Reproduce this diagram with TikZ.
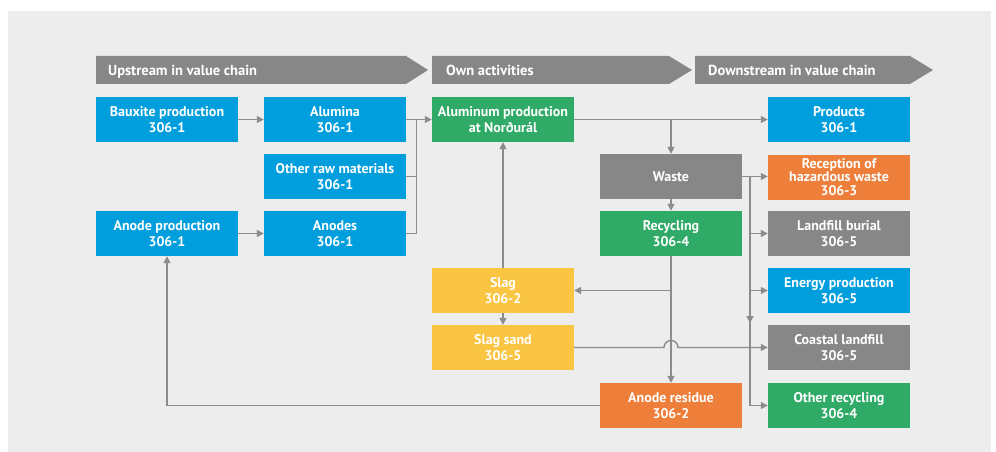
\documentclass[tikz,border=0pt]{standalone}
\usepackage{fontspec}
\setmainfont{PT Sans}
\usepackage{xcolor}
\usetikzlibrary{arrows.meta, positioning, calc}

\definecolor{bggray}{HTML}{EDEDED}
\definecolor{headgray}{HTML}{878787}
\definecolor{linegray}{HTML}{8C8C8C}
\definecolor{upblue}{HTML}{009EDD}
\definecolor{owngreen}{HTML}{30AB67}
\definecolor{hazorange}{HTML}{EE7F3A}
\definecolor{slagyellow}{HTML}{FBC544}

\begin{document}
\begin{tikzpicture}[x=1pt, y=-1pt,
  box/.style={minimum width=142pt, minimum height=45pt, inner sep=0pt, text=white,
    font=\bfseries\fontsize{14}{16.5}\selectfont, align=center},
  bluebox/.style={box, fill=upblue},
  greenbox/.style={box, fill=owngreen},
  orangebox/.style={box, fill=hazorange},
  yellowbox/.style={box, fill=slagyellow},
  graybox/.style={box, fill=headgray},
  headtext/.style={text=white, inner sep=0pt, anchor=base west, font=\bfseries\fontsize{14.5}{16}\selectfont},
  flow/.style={draw=linegray, line width=1.4pt},
  arr/.style={flow, -{Triangle[length=7pt, width=7pt]}}]

% background
\useasboundingbox[fill=white] (0,0) rectangle (996,452);
\fill[bggray] (8,11) rectangle (991,452);

% value chain headers
\fill[headgray] (96,56) -- (406,56) -- (428,70) -- (406,84) -- (96,84) -- cycle;
\node[headtext] (upstream) at (108,75) {Upstream in value chain};
\fill[headgray] (432,56) -- (669,56) -- (692,70) -- (669,84) -- (432,84) -- cycle;
\node[headtext] (own) at (446,75) {Own activities};
\fill[headgray] (695,56) -- (910,56) -- (933,70) -- (910,84) -- (695,84) -- cycle;
\node[headtext] (downstream) at (708,75) {Downstream in value chain};

% upstream
\node[bluebox] (bauxite) at (167,119.5) {Bauxite production\\306-1};
\node[bluebox] (alumina) at (335,119.5) {Alumina\\306-1};
\node[bluebox] (rawmat) at (335,176.5) {Other raw materials\\306-1};
\node[bluebox] (anodeprod) at (167,233.5) {Anode production\\306-1};
\node[bluebox] (anodes) at (335,233.5) {Anodes\\306-1};

% own activities
\node[greenbox] (aluminum) at (503,119.5) {Aluminum production\\at Norðurál};
\node[graybox] (waste) at (671,176.5) {Waste};
\node[greenbox] (recycling) at (671,233.5) {Recycling\\306-4};
\node[yellowbox] (slag) at (503,290.5) {Slag\\306-2};
\node[yellowbox] (slagsand) at (503,347.5) {Slag sand\\306-5};
\node[orangebox] (residue) at (671,405.5) {Anode residue\\306-2};

% downstream
\node[bluebox] (products) at (839,119.5) {Products\\306-1};
\node[orangebox, font=\bfseries\fontsize{14}{13.8}\selectfont] (reception) at (839,177) {Reception of\\hazardous waste\\306-3};
\node[graybox] (landfill) at (839,233.5) {Landfill burial\\306-5};
\node[bluebox] (energy) at (839,290.5) {Energy production\\306-5};
\node[graybox] (coastal) at (839,347.5) {Coastal landfill\\306-5};
\node[greenbox] (otherrec) at (839,405.5) {Other recycling\\306-4};

% connectors
\coordinate (inbus) at (416.5,119.5);
\coordinate (wastebus) at (750,176.5);
\coordinate (wastedown) at (750,323);
\coordinate (hop) at (671,347.5);

\draw[arr] (bauxite) -- (alumina);
\draw[arr] (anodeprod) -- (anodes);
\draw[arr] (alumina) -- (aluminum);
\draw[flow] (rawmat.east) -| (inbus);
\draw[flow] (anodes.east) -| (inbus);

\draw[arr] (aluminum) -- (products);
\draw[arr] (aluminum.east -| waste.north) -- (waste.north);
\draw[arr] (waste) -- (recycling);

\draw[arr] (waste.east) -- (reception.west |- waste.east);
\draw[arr] (wastebus) -- (wastedown);
\draw[arr] (wastebus) |- (landfill.west);
\draw[arr] (wastebus) |- (energy.west);
\draw[arr] (wastebus) |- (otherrec.west);

\draw[arr] (recycling) -- (residue);
\draw[arr] (recycling.south |- slag.east) -- (slag.east);
\draw[arr] (slag) -- (aluminum);
\draw[arr] (slag) -- (slagsand);
\draw[arr] (slagsand.east) -- ($(hop)+(-7,0)$) arc (180:360:7) -- (coastal.west);
\draw[arr] (residue.west) -| (anodeprod.south);

\end{tikzpicture}
\end{document}
